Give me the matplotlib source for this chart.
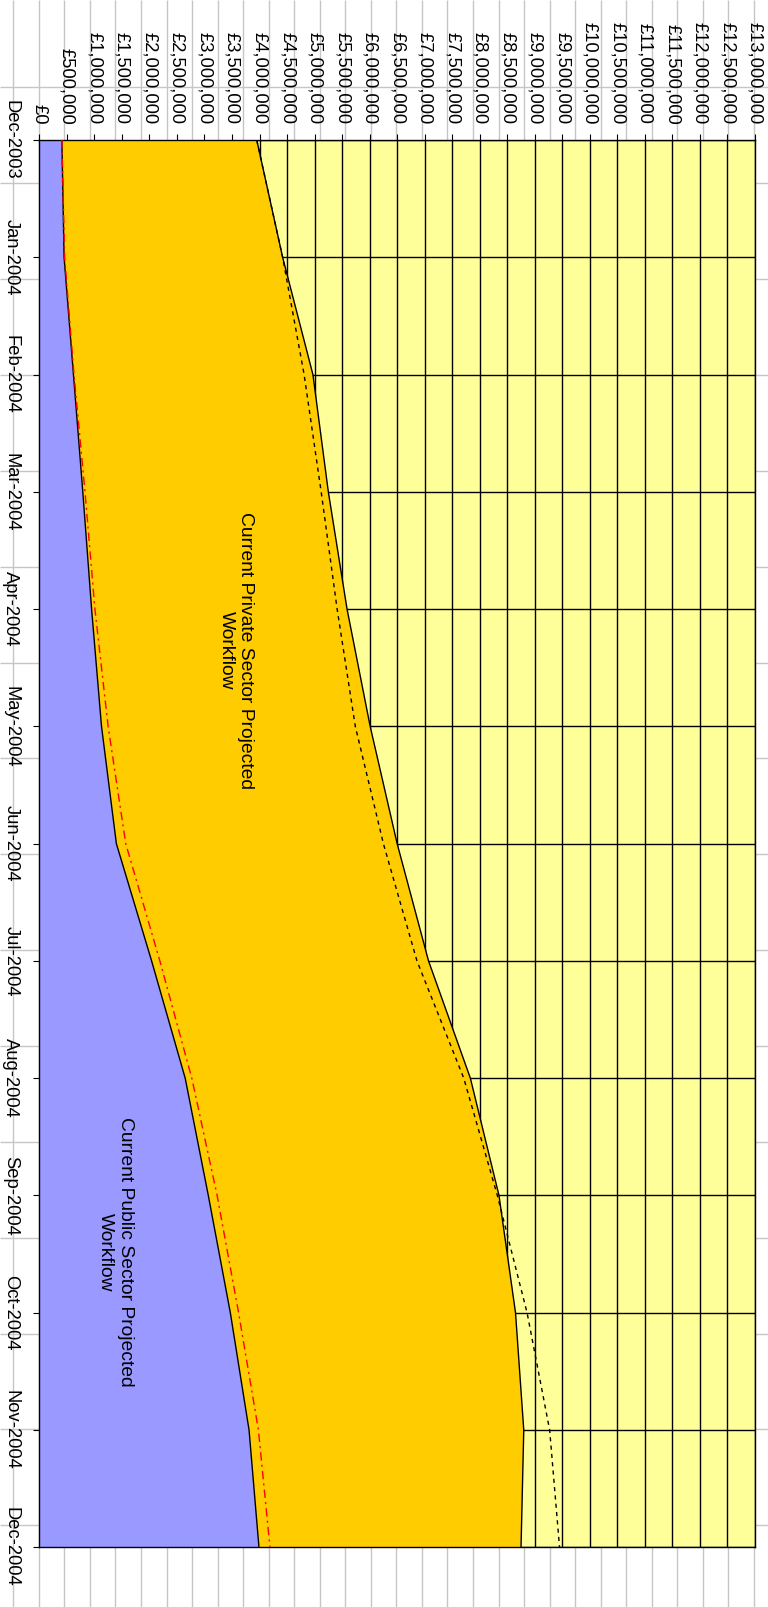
import numpy as np
import matplotlib.pyplot as plt
from matplotlib.ticker import FuncFormatter

plt.rcParams['font.family'] = ['Liberation Sans', 'DejaVu Sans']

# month categories (date axis runs top -> bottom, chart is turned on its side)
months = ['Dec-2003', 'Jan-2004', 'Feb-2004', 'Mar-2004', 'Apr-2004', 'May-2004', 'Jun-2004',
          'Jul-2004', 'Aug-2004', 'Sep-2004', 'Oct-2004', 'Nov-2004', 'Dec-2004']

# values in £ millions
public = [0.41, 0.45, 0.62, 0.79, 0.95, 1.13, 1.40, 2.04, 2.65, 3.07, 3.47, 3.81, 3.99]
private = [3.54, 3.97, 4.35, 4.46, 4.64, 4.88, 5.10, 5.03, 5.18, 5.28, 5.18, 4.99, 4.76]
public_line = [0.41, 0.46, 0.63, 0.83, 1.01, 1.25, 1.57, 2.19, 2.77, 3.23, 3.62, 3.98, 4.19]
total_line = [3.95, 4.42, 4.81, 5.12, 5.41, 5.74, 6.25, 6.86, 7.71, 8.32, 8.86, 9.27, 9.45]

W, H = 768, 1607
fig = plt.figure(figsize=(W / 100, H / 100), dpi=100, facecolor='white')

# spreadsheet cell lines behind the chart
bg = fig.add_axes([0, 0, 1, 1], zorder=0)
bg.set_xlim(0, W)
bg.set_ylim(H, 0)
bg.axis('off')
bg.vlines(13.3 + 25.54 * np.arange(30), 0, H, color='#c6c6c6', lw=1.0)
bg.hlines(87.3 + 95.87 * np.arange(16), 0, W, color='#c6c6c6', lw=1.0)

left, right, top, bottom = 39.3, 755.0, 140.0, 1547.3
ax = fig.add_axes([left / W, 1 - bottom / H, (right - left) / W, (bottom - top) / H], zorder=1)
ax.set_facecolor('#FFFF99')

y = np.arange(len(months))
pub = np.array(public) * 1e6
tot = pub + np.array(private) * 1e6

ax.fill_betweenx(y, 0, pub, facecolor='#9999FF', edgecolor='none', zorder=2)
ax.fill_betweenx(y, pub, tot, facecolor='#FFCC00', edgecolor='none', zorder=2)
ax.plot(pub, y, color='black', lw=1.0, zorder=3)
ax.plot(tot, y, color='black', lw=1.0, zorder=3)
ax.plot(np.array(public_line) * 1e6, y, color='#FF0000', lw=1.0,
        linestyle=(0, (6, 3, 1.5, 3)), zorder=4)
ax.plot(np.array(total_line) * 1e6, y, color='black', lw=1.0,
        linestyle=(0, (3, 3)), zorder=4)

ax.set_xlim(0, 13e6)
ax.set_ylim(12, 0)
ax.set_xticks(np.arange(0, 13e6 + 1, 5e5))
ax.xaxis.set_major_formatter(FuncFormatter(lambda v, p: '£{:,.0f}'.format(v)))
ax.set_yticks(y)
ax.set_yticklabels(months)
ax.xaxis.tick_top()
ax.tick_params(axis='x', direction='out', length=4.3, width=0.8, pad=7,
               labelrotation=-90, labelsize=13.2)
ax.tick_params(axis='y', direction='out', length=4.3, width=0.8, pad=10,
               labelrotation=-90, labelsize=13.2)
for lab in ax.get_yticklabels():
    lab.set_va('center')

ax.set_axisbelow(True)
ax.grid(True, color='black', lw=1.0)
for s in ax.spines.values():
    s.set_color('black')
    s.set_linewidth(1.0)

ax.text(3.57e6, 4.35, 'Current Private Sector Projected\nWorkflow', rotation=-90,
        ha='center', va='center', multialignment='center', fontsize=13.9, zorder=5)
ax.text(1.38e6, 9.48, 'Current Public Sector Projected\nWorkflow', rotation=-90,
        ha='center', va='center', multialignment='center', fontsize=13.9, zorder=5)

fig.savefig('out.png', dpi=100)
